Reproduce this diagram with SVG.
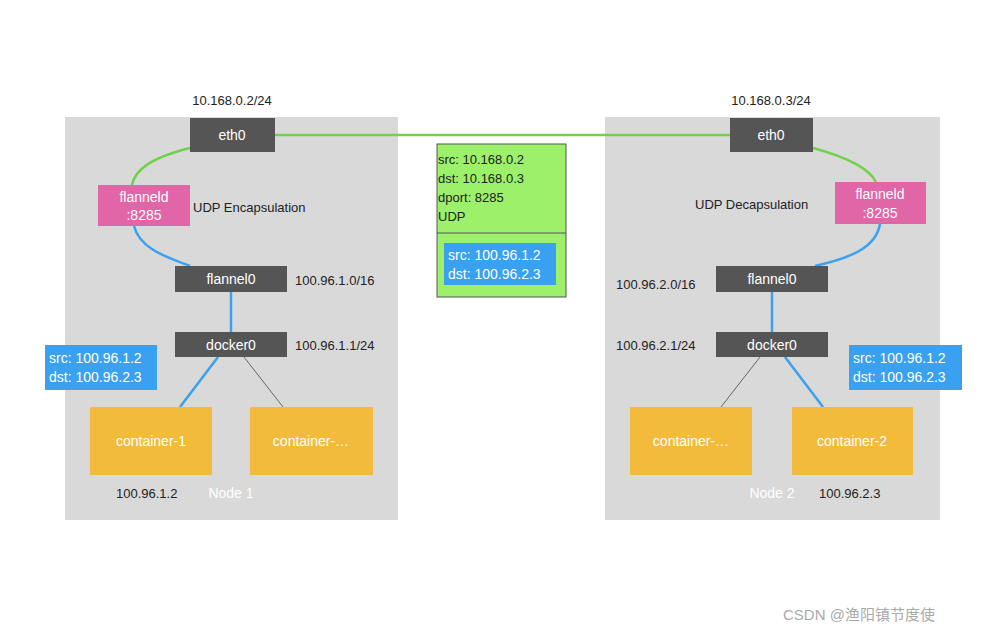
<svg xmlns="http://www.w3.org/2000/svg" width="986" height="634" viewBox="0 0 986 634">
<style>
text{font-family:"Liberation Sans",Arial,sans-serif;font-size:13px;fill:#222}
.w{fill:#fff;font-size:14px}
.dk{fill:#555}
.cn{fill:#f2bb3c}
.c{text-anchor:middle}
.g{stroke:#6fd24a;stroke-width:2.5;fill:none}
.b{stroke:#3aa0f0;stroke-width:2.5;fill:none}
.t{stroke:#666;stroke-width:1;fill:none}
</style>
<rect width="986" height="634" fill="#fff"/>
<g id="node1"><rect x="65" y="117" width="333" height="403" fill="#d9d9d9"/><text x="231" y="498" class="c w" font-size="13">Node 1</text></g>
<g id="node2"><rect x="605" y="117" width="335" height="403" fill="#d9d9d9"/><text x="772" y="498" class="c w" font-size="13">Node 2</text></g>
<g id="connectors">
<path class="g" d="M275 135 L730 135"/>
<path class="g" d="M190 148 C150 158 135 170 132 185"/>
<path class="g" d="M813 148 C850 158 870 170 876 182"/>
<path class="b" d="M134 226 C140 250 170 258 190 266"/>
<path class="b" d="M880 224 C876 248 850 258 815 266"/>
<path class="b" d="M231 292 L231 332"/>
<path class="b" d="M772 292 L772 332"/>
<path class="b" d="M218 357 L180 407"/>
<path class="t" d="M244 357 L283 407"/>
<path class="b" d="M785 357 L823 407"/>
<path class="t" d="M760 357 L721 407"/>
</g>
<g id="eth0-1"><rect x="190" y="118" width="85" height="34" class="dk"/><text x="232" y="140" class="c w">eth0</text><text x="232" y="105" class="c">10.168.0.2/24</text></g>
<g id="eth0-2"><rect x="730" y="118" width="83" height="34" class="dk"/><text x="771" y="140" class="c w">eth0</text><text x="771" y="105" class="c">10.168.0.3/24</text></g>
<g id="flanneld-1"><rect x="98" y="185" width="92" height="41" fill="#e066a8"/><text x="144" y="202" class="c w">flanneld</text><text x="144" y="220" class="c w">:8285</text><text x="193" y="212">UDP Encapsulation</text></g>
<g id="flanneld-2"><rect x="835" y="182" width="91" height="42" fill="#e066a8"/><text x="880" y="199" class="c w">flanneld</text><text x="880" y="218" class="c w">:8285</text><text x="695" y="209">UDP Decapsulation</text></g>
<g id="flannel0-1"><rect x="175" y="266" width="112" height="26" class="dk"/><text x="231" y="284" class="c w">flannel0</text><text x="295" y="285">100.96.1.0/16</text></g>
<g id="flannel0-2"><rect x="716" y="266" width="112" height="26" class="dk"/><text x="772" y="284" class="c w">flannel0</text><text x="616" y="289">100.96.2.0/16</text></g>
<g id="docker0-1"><rect x="175" y="332" width="112" height="25" class="dk"/><text x="231" y="350" class="c w">docker0</text><text x="295" y="350">100.96.1.1/24</text></g>
<g id="docker0-2"><rect x="716" y="332" width="112" height="25" class="dk"/><text x="772" y="350" class="c w">docker0</text><text x="616" y="350">100.96.2.1/24</text></g>
<g id="label-l"><rect x="45" y="345" width="112" height="45" fill="#3aa0f0"/><text x="49" y="363" class="w" font-size="13">src: 100.96.1.2</text><text x="49" y="382" class="w" font-size="13">dst: 100.96.2.3</text></g>
<g id="label-r"><rect x="849" y="345" width="113" height="45" fill="#3aa0f0"/><text x="853" y="363" class="w" font-size="13">src: 100.96.1.2</text><text x="853" y="382" class="w" font-size="13">dst: 100.96.2.3</text></g>
<g id="c1"><rect x="90" y="407" width="122" height="68" class="cn"/><text x="151" y="446" class="c w">container-1</text><text x="116" y="498">100.96.1.2</text></g>
<g id="c1b"><rect x="250" y="407" width="123" height="68" class="cn"/><text x="311" y="446" class="c w">container-…</text></g>
<g id="c2b"><rect x="630" y="407" width="122" height="68" class="cn"/><text x="691" y="446" class="c w">container-…</text></g>
<g id="c2"><rect x="792" y="407" width="121" height="68" class="cn"/><text x="852" y="446" class="c w">container-2</text><text x="819" y="498">100.96.2.3</text></g>
<g id="packet"><rect x="437" y="144" width="129" height="153" fill="#9cf06a" stroke="#555"/><line x1="437" y1="233" x2="566" y2="233" stroke="#555"/>
<text x="438" y="164">src: 10.168.0.2</text><text x="438" y="183">dst: 10.168.0.3</text><text x="438" y="202">dport: 8285</text><text x="438" y="221">UDP</text>
<rect x="444" y="243" width="112" height="42" fill="#3aa0f0"/><text x="448" y="260" class="w" font-size="13">src: 100.96.1.2</text><text x="448" y="279" class="w" font-size="13">dst: 100.96.2.3</text></g>
<text x="783" y="620" fill="#999" style="fill:#aaa;font-family:'Liberation Sans','Noto Sans CJK SC',sans-serif;font-size:15px">CSDN @渔阳镇节度使</text>
</svg>
